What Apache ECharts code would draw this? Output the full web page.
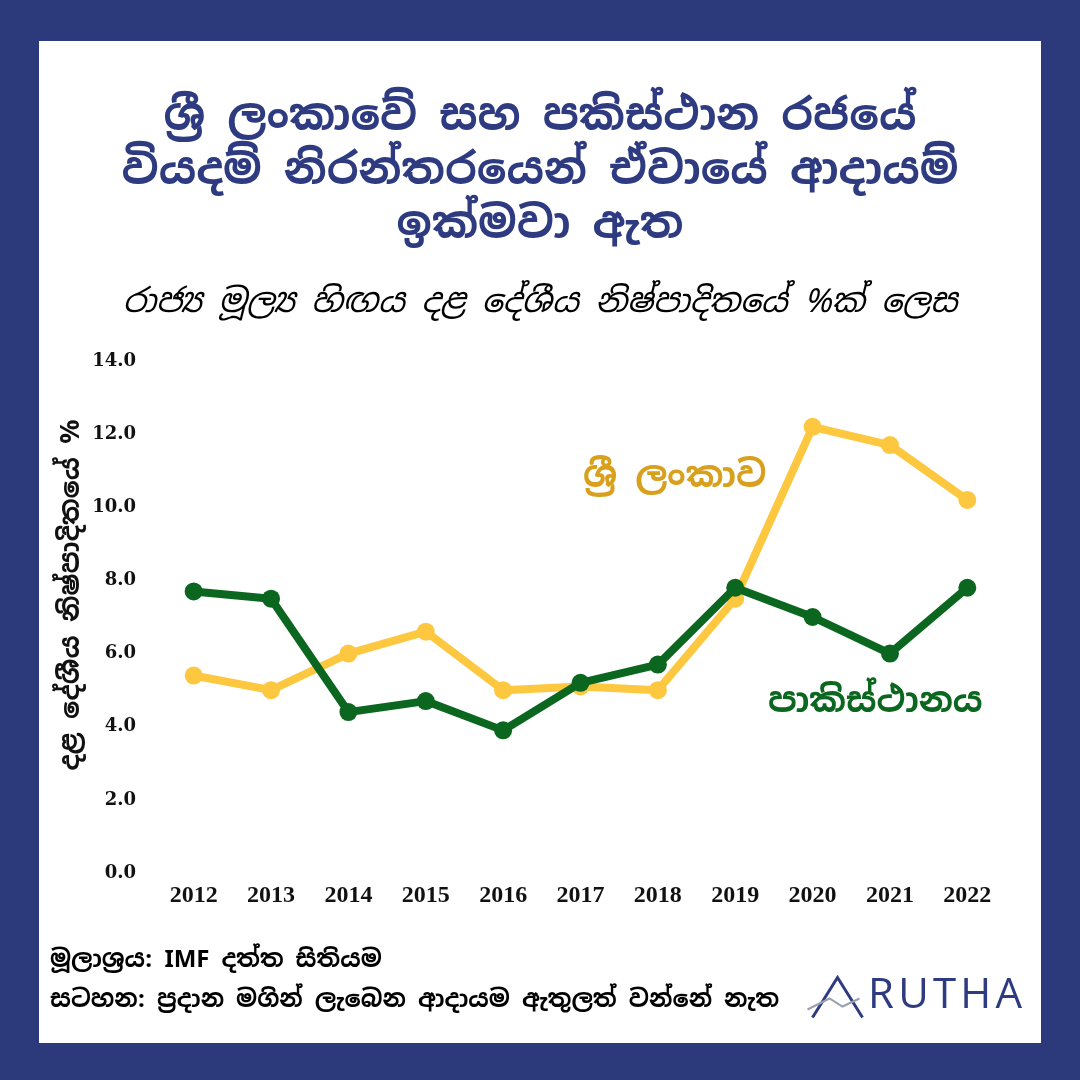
<!DOCTYPE html>
<html>
<head>
<meta charset="utf-8">
<script src="https://cdn.jsdelivr.net/npm/echarts@6/dist/echarts.min.js"></script>
<style>
    html, body { margin: 0; padding: 0; background: #2c3a7b; }
    #frame { position: absolute; left: 39px; top: 41px; width: 1002px; height: 1002px; background: #ffffff; }
    #chart { position: absolute; left: 0; top: 0; width: 1080px; height: 1080px; }
</style>
</head>
<body>
<div id="frame"></div>
<div id="chart"></div>
<script>
    var years = ['2012', '2013', '2014', '2015', '2016', '2017', '2018', '2019', '2020', '2021', '2022'];
    var sriLanka = [5.4, 5.0, 6.0, 6.6, 5.0, 5.1, 5.0, 7.5, 12.2, 11.7, 10.2];
    var pakistan = [7.7, 7.5, 4.4, 4.7, 3.9, 5.2, 5.7, 7.8, 7.0, 6.0, 7.8];
    var seriesNames = ['ශ්‍රී ලංකාව', 'පාකිස්ථානය'];
    var yAxisTitle = 'දළ දේශීය නිෂ්පාදිතයේ %';

    var sinhala = '"Noto Sans Sinhala", "Noto Serif Sinhala", "Iskoola Pota", sans-serif';
    var navy = '#2e3b80';
    var yellow = '#fdc840';
    var green = '#0b661f';

    var chart = echarts.init(document.getElementById('chart'), null, { renderer: 'canvas' });
    var option = {
        backgroundColor: 'transparent',
        animation: false,
        grid: { left: 155, right: 74, top: 361, bottom: 207, containLabel: false },
        xAxis: {
            type: 'category',
            data: years,
            boundaryGap: true,
            axisLine: { show: false },
            axisTick: { show: false },
            axisLabel: {
                margin: 11,
                color: '#111',
                fontFamily: '"Liberation Serif", serif',
                fontWeight: 'bold',
                fontSize: 24
            }
        },
        yAxis: {
            type: 'value',
            min: 0,
            max: 14,
            interval: 2,
            splitLine: { show: false },
            axisLine: { show: false },
            axisTick: { show: false },
            axisLabel: {
                margin: 19,
                color: '#111',
                fontFamily: '"DejaVu Serif", serif',
                fontWeight: 'bold',
                fontSize: 18,
                formatter: function (v) { return v.toFixed(1); }
            }
        },
        series: [
            {
                name: seriesNames[0],
                type: 'line',
                data: sriLanka,
                symbol: 'circle',
                symbolSize: 18,
                lineStyle: { width: 8, color: yellow },
                itemStyle: { color: yellow },
                z: 2
            },
            {
                name: seriesNames[1],
                type: 'line',
                data: pakistan,
                symbol: 'circle',
                symbolSize: 18,
                lineStyle: { width: 8, color: green },
                itemStyle: { color: green },
                z: 3
            }
        ],
        graphic: [
            {
                type: 'text', left: 'center', top: 91,
                style: {
                    text: 'ශ්‍රී ලංකාවේ සහ පකිස්ථාන රජයේ\nවියදම් නිරන්තරයෙන් ඒවායේ ආදායම්\nඉක්මවා ඇත',
                    fill: navy, font: 'bold 44px ' + sinhala, textAlign: 'center', lineHeight: 54
                }
            },
            {
                type: 'text', left: 'center', top: 286,
                style: {
                    text: 'රාජ්‍ය මූල්‍ය හිඟය දළ දේශීය නිෂ්පාදිතයේ %ක් ලෙස',
                    fill: '#000', font: 'italic 33px ' + sinhala, textAlign: 'center'
                }
            },
            {
                type: 'text', x: 72, y: 595, rotation: Math.PI / 2,
                style: {
                    text: yAxisTitle, fill: '#111', font: 'bold 27px ' + sinhala,
                    align: 'center', verticalAlign: 'middle'
                }
            },
            {
                type: 'text', left: 583, top: 459,
                style: { text: seriesNames[0], fill: '#d8a01c', font: 'bold 36px ' + sinhala }
            },
            {
                type: 'text', left: 768, top: 685,
                style: { text: seriesNames[1], fill: green, font: 'bold 35px ' + sinhala }
            },
            {
                type: 'text', left: 50, top: 948,
                style: { text: 'මූලාශ්‍රය: IMF දත්ත සිතියම', fill: '#000', font: 'bold 24px ' + sinhala }
            },
            {
                type: 'text', left: 50, top: 988,
                style: { text: 'සටහන: ප්‍රදාන මගින් ලැබෙන ආදායම ඇතුලත් වන්නේ නැත', fill: '#000', font: 'bold 24px ' + sinhala }
            },
            {
                type: 'text', left: 868, top: 975,
                style: { text: 'R\u200aU\u200aT\u200aH\u200aA', fill: navy, font: '42px "Open Sans", sans-serif' }
            },
            {
                type: 'polyline', left: 810, top: 975,
                shape: { points: [[0, 40], [25, 0], [50, 40]] },
                style: { stroke: navy, lineWidth: 3, fill: null }
            },
            {
                type: 'polyline', left: 805, top: 996,
                shape: { points: [[0, 13], [22, 2], [35, 10], [52, 2]] },
                style: { stroke: '#9aa0b0', lineWidth: 2, fill: null }
            }
        ]
    };
    chart.setOption(option);
</script>
</body>
</html>
